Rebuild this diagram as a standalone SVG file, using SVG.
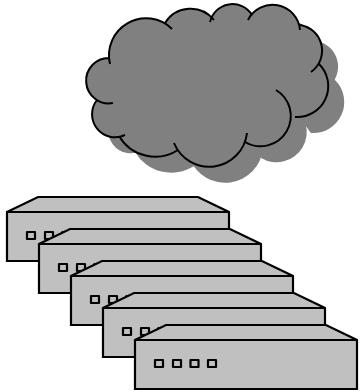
<svg xmlns="http://www.w3.org/2000/svg" width="360" height="392" viewBox="0 0 360 392">
<style>
.body{fill:#c0c0c0;stroke:#000;stroke-width:2.2;stroke-linejoin:miter}
.port{fill:#c0c0c0;stroke:#000;stroke-width:2.2;stroke-linejoin:round}
.cf{fill:#808080;stroke:none}
.cs{fill:none;stroke:#000;stroke-width:2}
</style>
<defs>
<g id="cloudFill">
<path d="M172,29A37,37 0 0 0 110,64L109.5,58A22.7,22.7 0 1 0 113,103L97,100A23,23 0 0 0 125,135L119,136A42,42 0 0 0 178,150L174,143A38,38 0 0 0 247,133L245,142A30,30 0 0 0 276,90L295,117A31,31 0 0 0 319,64L311,72A26,26 0 0 0 300,25L300,30A27.5,27.5 0 0 0 248,20L252,15A23,23 0 0 0 210,22L214,20A30,30 0 0 0 165,23Z"/>
<path d="M172,29L110,64L113,103L125,135L178,150L247,133L276,90L295,117L319,64L300,25L248,20L210,22Z"/>
</g>
<g id="device">
<path class="body" d="M7,212L38,197H198L229,212V261H7Z"/>
<path class="body" d="M7,212H229"/>
<rect class="port" x="27" y="232" width="8" height="7"/>
<rect class="port" x="45" y="232" width="8" height="7"/>
<rect class="port" x="62.500" y="232" width="8" height="7"/>
<rect class="port" x="80" y="232" width="8" height="7"/>
</g>
</defs>
<g id="cloud">
<use href="#cloudFill" class="cf" x="16" y="16"/>
<use href="#cloudFill" class="cf"/>
<path class="cs" d="M172,29A37,37 0 0 0 110,64M109.500,58A22.700,22.700 0 1 0 113,103M97,100A23,23 0 0 0 125,135M119,136A42,42 0 0 0 178,150M174,143A38,38 0 0 0 247,133M245,142A30,30 0 0 0 276,90M295,117A31,31 0 0 0 319,64M311,72A26,26 0 0 0 300,25M300,30A27.500,27.500 0 0 0 248,20M252,15A23,23 0 0 0 210,22M214,20A30,30 0 0 0 165,23"/>
</g>
<g id="device1"><use href="#device"/></g>
<g id="device2"><use href="#device" x="32" y="32"/></g>
<g id="device3"><use href="#device" x="64" y="64"/></g>
<g id="device4"><use href="#device" x="96" y="96"/></g>
<g id="device5"><use href="#device" x="128" y="128"/></g>
<g id="connectors"/>
</svg>
